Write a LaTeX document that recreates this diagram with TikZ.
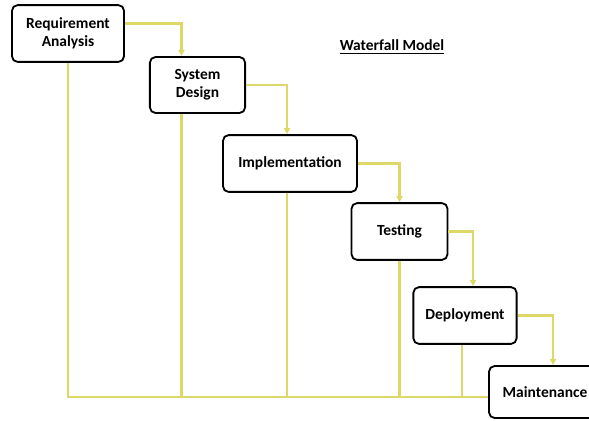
\documentclass[tikz,border=0pt]{standalone}
\usepackage{fontspec}
\setmainfont{Carlito}
\usetikzlibrary{arrows.meta, positioning, calc}
\definecolor{flowyellow}{RGB}{222,216,104}

\begin{document}
\begin{tikzpicture}[x=0.025cm, y=-0.025cm,
    phase/.style={draw=black, line width=1.3pt, rounded corners=4pt, fill=white,
        font=\bfseries\fontsize{11}{12.5}\selectfont, align=center, inner sep=0pt},
    flow/.style={flowyellow, line width=1.6pt, -{Triangle[width=4.5pt,length=4.5pt]}},
    fb/.style={flowyellow, line width=1.6pt}]
    \clip (0,0) rectangle (589,420);
    \node[phase, minimum width=2.8cm, minimum height=1.42cm] (req) at (68,33.5) {Requirement\\Analysis};
    \node[phase, minimum width=2.38cm, minimum height=1.4cm] (sys) at (197.5,85) {System\\Design};
    \node[phase, minimum width=3.35cm, minimum height=1.42cm] (impl) at (290,163.5) {Implementation};
    \node[phase, minimum width=2.4cm, minimum height=1.42cm] (test) at (399.5,231.5) {Testing};
    \node[phase, minimum width=2.58cm, minimum height=1.42cm] (dep) at (465,315.5) {Deployment};
    \node[phase, minimum width=2.8cm, minimum height=1.3cm] (maint) at (545,392) {Maintenance};
    \node[font=\bfseries\fontsize{11}{12.5}\selectfont] (title) at (392,47) {\underline{Waterfall Model}};
    % cascade
    \draw[flow] (req.10) -| ([xshift=-0.4cm]sys.north);
    \draw[flow] (sys.east) -| ([xshift=-0.075cm]impl.north);
    \draw[flow] (impl.east) -| (test.north);
    \draw[flow] (test.east) -| ([xshift=0.2cm]dep.north);
    \draw[flow] (dep.east) -| ([xshift=0.2cm]maint.north);
    % feedback lines
    \coordinate (bus) at ([yshift=-3.5pt]maint.west);
    \draw[fb] (req.south) |- (bus);
    \foreach \n/\dx in {sys/-0.4cm, impl/-0.075cm, test/0cm, dep/-0.075cm}
        \draw[fb] ([xshift=\dx]\n.south) -- ([xshift=\dx]\n.south |- bus);
\end{tikzpicture}
\end{document}
